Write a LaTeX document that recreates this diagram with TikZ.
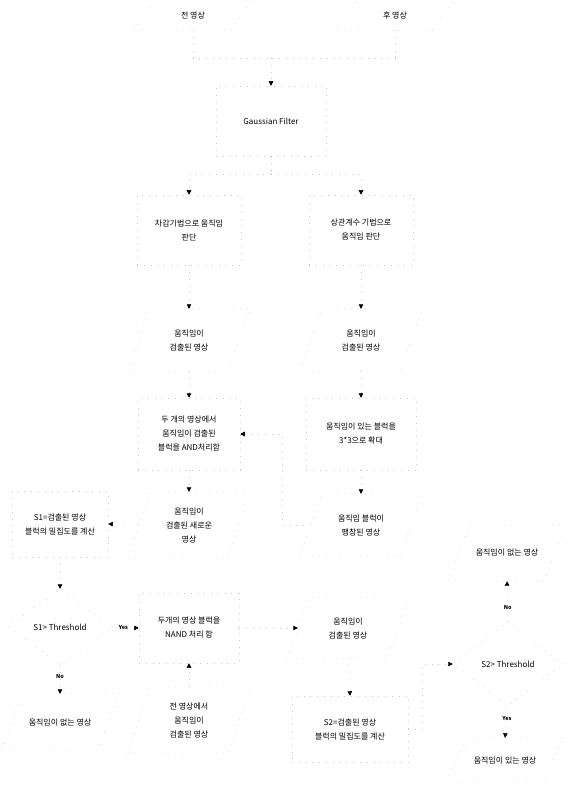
\documentclass[tikz,border=0pt]{standalone}
\usepackage{fontspec}
\setmainfont{Noto Sans CJK KR}
\usetikzlibrary{arrows.meta,calc,shapes.geometric}
\definecolor{edgegray}{gray}{0.78}
\tikzset{
  lbl/.style={font=\fontsize{8}{14}\selectfont, align=center, inner sep=0pt},
  yesno/.style={font=\fontsize{5.5}{6}\selectfont\bfseries, inner sep=0pt},
  outline/.style={draw=edgegray, line width=0.5pt, dash pattern=on 0.8pt off 6pt},
  procbox/.style={lbl, rectangle, outline},
  decision/.style={lbl, diamond, outline, aspect=1.4},
  flow/.style={outline, -{Triangle[black,length=4.5pt,width=4.5pt]}},
}
% input/output block: a slanted parallelogram drawn around a plain text node
\newcommand\ioshape[5]{%
  \node[lbl, minimum width=#3, minimum height=#4] (#1) at (#2) {#5};
  \draw[outline] ($(#1.south west)+(-11,0)$) -- ($(#1.north west)+(11,0)$)
    -- ($(#1.north east)+(11,0)$) -- ($(#1.south east)+(-11,0)$) -- cycle;}
\begin{document}
\begin{tikzpicture}[x=1pt,y=-1pt]
\useasboundingbox (0,0) rectangle (567,810);

% inputs and filtering
\ioshape{in1}{193,15}{96pt}{30pt}{전 영상}
\ioshape{in2}{395,15}{96pt}{30pt}{후 영상}
\node[procbox, minimum width=110pt, minimum height=70pt] (gauss) at (271,121) {Gaussian Filter};

% two motion detectors
\node[procbox, minimum width=104pt, minimum height=70pt] (diff) at (189,230) {차감기법으로 움직임\\판단};
\node[procbox, minimum width=104pt, minimum height=70pt] (corr) at (361,230) {상관계수 기법으로\\움직임 판단};
\ioshape{det1}{189,340}{100pt}{62pt}{움직임이\\검출된 영상}
\ioshape{det2}{361,340}{100pt}{62pt}{움직임이\\검출된 영상}

\node[procbox, minimum width=102pt, minimum height=72pt] (andbox) at (189,434) {두 개의 영상에서\\움직임이 검출된\\블럭을 AND처리함};
\node[procbox, minimum width=110pt, minimum height=72pt] (grow) at (361,434) {움직임이 있는 블럭을\\3*3으로 확대};
\ioshape{newimg}{189,525}{100pt}{66pt}{움직임이\\검출된 새로운\\영상}
\ioshape{dil}{361,525}{100pt}{62pt}{움직임 블럭이\\팽창된 영상}

% first density test
\node[procbox, minimum width=96pt, minimum height=66pt] (s1calc) at (60,524) {S1=검출된 영상\\블럭의 밀집도를 계산};
\node[decision, minimum width=104pt, minimum height=76pt] (s1dia) at (60,627) {S1> Threshold};
\ioshape{none1}{60,722}{96pt}{56pt}{움직임이 없는 영상}

\node[procbox, minimum width=100pt, minimum height=70pt] (nand) at (189,628) {두개의 영상 블럭을\\NAND 처리 함};
\ioshape{prev}{189,720}{100pt}{66pt}{전 영상에서\\움직임이\\검출된 영상}
\ioshape{det3}{348,628}{100pt}{60pt}{움직임이\\검출된 영상}

% second density test
\node[procbox, minimum width=116pt, minimum height=66pt] (s2calc) at (350,729) {S2=검출된 영상\\블럭의 밀집도를 계산};
\node[decision, minimum width=110pt, minimum height=84pt] (s2dia) at (508,664) {S2> Threshold};
\ioshape{none2}{507,553}{96pt}{56pt}{움직임이 없는 영상}
\ioshape{some}{505,760}{96pt}{44pt}{움직임이 있는 영상}

% connectors
\coordinate (join) at (271,58);
\coordinate (split) at (271,174);
\coordinate (rise) at (282,525);
\draw[outline] (in1.south) |- (join);
\draw[outline] (in2.south) |- (join);
\draw[flow] (join) -- (gauss.north);
\draw[outline] (gauss.south) -- (split);
\draw[flow] (split) -| (diff.north);
\draw[flow] (split) -| (corr.north);
\draw[flow] (diff.south) -- (det1.north);
\draw[flow] (corr.south) -- (det2.north);
\draw[flow] (det1.south) -- (andbox.north);
\draw[flow] (det2.south) -- (grow.north);
\draw[flow] (andbox.south) -- (newimg.north);
\draw[flow] (grow.south) -- (dil.north);
\draw[flow] (dil.west) -- (rise) |- (andbox.east);
\draw[flow] (newimg.west) -- (s1calc.east);
\draw[flow] (s1calc.south) -- (s1dia.north);
\draw[flow] (s1dia.east) -- node[yesno, pos=0.42] {Yes} (nand.west);
\draw[flow] (s1dia.south) -- node[yesno, pos=0.4] {No} (none1.north);
\draw[flow] (prev.north) -- (nand.south);
\draw[flow] (nand.east) -- (det3.west);
\draw[flow] (det3.south) -- (s2calc.north);
\draw[flow] (s2calc.east) -- ++(14,0) |- (s2dia.west);
\draw[flow] (s2dia.north) -- node[yesno, pos=0.35] {No} (none2.south);
\draw[flow] (s2dia.south) -- node[yesno, pos=0.4] {Yes} (some.north);
\end{tikzpicture}
\end{document}
